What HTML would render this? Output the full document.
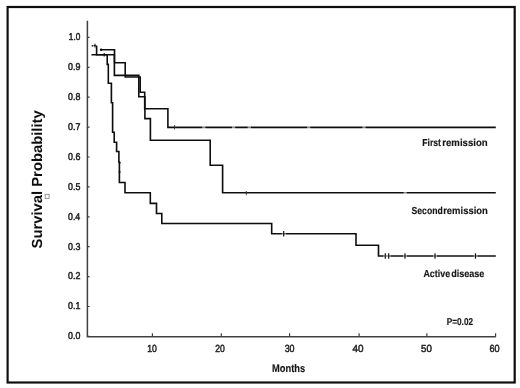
<!DOCTYPE html>
<html><head><meta charset="utf-8"><style>
html,body{margin:0;padding:0;background:#fff;width:520px;height:388px;overflow:hidden}
svg{display:block;text-rendering:geometricPrecision}
</style></head><body>
<svg width="520" height="388" viewBox="0 0 520 388">
<defs><filter id="bl" x="-5%" y="-5%" width="110%" height="110%"><feGaussianBlur stdDeviation="0.3"/></filter></defs>
<rect x="0" y="0" width="520" height="388" fill="#fff"/>
<g filter="url(#bl)">
<rect x="7.6" y="7.0" width="507.1" height="375.5" fill="none" stroke="#111" stroke-width="2.2"/>
<path d="M87.4 20.8 V336.7 H495.8" fill="none" stroke="#404040" stroke-width="1.5"/>
<path d="M87.4 37.4 h2.2 M87.4 67.3 h2.2 M87.4 97.2 h2.2 M87.4 127.1 h2.2 M87.4 157.0 h2.2 M87.4 186.9 h2.2 M87.4 216.8 h2.2 M87.4 246.7 h2.2 M87.4 276.6 h2.2 M87.4 306.5 h2.2 M87.4 336.4 h2.2 M152.4 336.7 v-3.4 M221.3 336.7 v-3.4 M289.6 336.7 v-3.4 M359.1 336.7 v-3.4 M426.9 336.7 v-3.4 M495.6 336.7 v-3.4" stroke="#404040" stroke-width="1.2" fill="none"/>
<g font-family="Liberation Sans" fill="#222" stroke="#222" stroke-width="0.5"><text x="68.87" y="40.2" font-size="9.9" textLength="11.45" lengthAdjust="spacingAndGlyphs">1.0</text><text x="68.05" y="70.1" font-size="9.9" textLength="12.37" lengthAdjust="spacingAndGlyphs">0.9</text><text x="68.05" y="100.0" font-size="9.9" textLength="12.33" lengthAdjust="spacingAndGlyphs">0.8</text><text x="68.05" y="129.9" font-size="9.9" textLength="12.4" lengthAdjust="spacingAndGlyphs">0.7</text><text x="68.05" y="159.8" font-size="9.9" textLength="12.34" lengthAdjust="spacingAndGlyphs">0.6</text><text x="68.05" y="189.7" font-size="9.9" textLength="12.32" lengthAdjust="spacingAndGlyphs">0.5</text><text x="68.06" y="219.6" font-size="9.9" textLength="12.2" lengthAdjust="spacingAndGlyphs">0.4</text><text x="68.05" y="249.5" font-size="9.9" textLength="12.34" lengthAdjust="spacingAndGlyphs">0.3</text><text x="68.05" y="279.4" font-size="9.9" textLength="12.4" lengthAdjust="spacingAndGlyphs">0.2</text><text x="68.05" y="309.3" font-size="9.9" textLength="12.38" lengthAdjust="spacingAndGlyphs">0.1</text><text x="68.05" y="339.2" font-size="9.9" textLength="12.29" lengthAdjust="spacingAndGlyphs">0.0</text></g>
<g font-family="Liberation Sans" fill="#222" stroke="#222" stroke-width="0.5"><text x="147.24" y="351.8" font-size="10.3" textLength="9.59" lengthAdjust="spacingAndGlyphs">10</text><text x="215.17" y="351.8" font-size="10.3" textLength="9.57" lengthAdjust="spacingAndGlyphs">20</text><text x="284.66" y="351.8" font-size="10.3" textLength="9.89" lengthAdjust="spacingAndGlyphs">30</text><text x="352.57" y="351.8" font-size="10.3" textLength="11.01" lengthAdjust="spacingAndGlyphs">40</text><text x="421.11" y="351.8" font-size="10.3" textLength="10.77" lengthAdjust="spacingAndGlyphs">50</text><text x="489.54" y="351.8" font-size="10.3" textLength="10.12" lengthAdjust="spacingAndGlyphs">60</text></g>
<path d="M100.5 49.7 H114.5 V62.8 H125.2 V77.0 H140.2 V92.3 H144.7 V108.8 H167.9 V127.4 H495.8" fill="none" stroke="#111" stroke-width="1.6" stroke-linejoin="miter"/>
<path d="M91.5 54.8 H114.4 V75.4 H138.8 V96.8 H144.9 V118.6 H150.4 V140.2 H210.2 V165.2 H222.6 V192.7 H495.8" fill="none" stroke="#111" stroke-width="1.6" stroke-linejoin="miter"/>
<path d="M96.6 46 V54.8 H107.2 V64.4 H108.3 V83.3 H111.4 V102.8 H112.6 V132.3 H114.2 V142.3 H116.6 V151.5 H118.9 V162 H119.4 V182.5 H125 V192.8 H150.3 V203.4 H156.5 V213.5 H161.8 V223.5 H271.7 V233.8 H356 V245.2 H378.5 V256 H495.8" fill="none" stroke="#111" stroke-width="1.6" stroke-linejoin="miter"/>
<rect x="202.20" y="125.80" width="3.2" height="3.2" fill="#fff" fill-opacity="0.5"/><rect x="232.00" y="125.80" width="3.2" height="3.2" fill="#fff" fill-opacity="0.5"/><rect x="247.70" y="125.80" width="3.2" height="3.2" fill="#fff" fill-opacity="0.5"/><rect x="307.10" y="125.80" width="3.2" height="3.2" fill="#fff" fill-opacity="0.5"/><rect x="362.40" y="125.80" width="3.2" height="3.2" fill="#fff" fill-opacity="0.5"/><rect x="403.60" y="191.10" width="3.2" height="3.2" fill="#fff" fill-opacity="0.5"/><rect x="281.70" y="232.20" width="4.0" height="3.2" fill="#fff" fill-opacity="0.45"/><rect x="383.30" y="254.40" width="4.0" height="3.2" fill="#fff" fill-opacity="0.45"/><rect x="386.70" y="254.40" width="4.0" height="3.2" fill="#fff" fill-opacity="0.45"/><rect x="403.00" y="254.40" width="4.0" height="3.2" fill="#fff" fill-opacity="0.45"/><rect x="433.00" y="254.40" width="4.0" height="3.2" fill="#fff" fill-opacity="0.45"/><rect x="473.50" y="254.40" width="4.0" height="3.2" fill="#fff" fill-opacity="0.45"/>
<path d="M283.7 231.1 v5.4 M385.3 253.3 v5.4 M388.7 253.3 v5.4 M405 253.3 v5.4 M435 253.3 v5.4 M475.5 253.3 v5.4" stroke="#111" stroke-width="1.2" fill="none"/>
<path d="M174.6 125 v4.5 M246.3 191 v4.2" stroke="#333" stroke-width="0.9" fill="none"/>
<circle cx="119.6" cy="162.8" r="1.1" fill="#111"/><circle cx="119.6" cy="172" r="1.1" fill="#111"/>
<circle cx="101.1" cy="49.7" r="1.25" fill="#111"/>
<path d="M104.2 53 v3.6" stroke="#111" stroke-width="1.1"/>
<circle cx="92.4" cy="45.8" r="0.9" fill="#222"/>
<path d="M93.6 45.6 h3 M95 43.8 v3.6" stroke="#222" stroke-width="1.1" fill="none"/>
<g font-family="Liberation Sans" font-weight="bold" fill="#151515" stroke="#151515" stroke-width="0.15"><text x="422.22" y="146.4" font-size="10.2" textLength="18.68" lengthAdjust="spacingAndGlyphs">First</text><text x="442.27" y="146.4" font-size="10.2" textLength="45.43" lengthAdjust="spacingAndGlyphs">remission</text><text x="411.55" y="214.3" font-size="10.2" textLength="31.12" lengthAdjust="spacingAndGlyphs">Second</text><text x="443.18" y="214.3" font-size="10.2" textLength="44.71" lengthAdjust="spacingAndGlyphs">remission</text><text x="423.38" y="277.2" font-size="10.2" textLength="26.73" lengthAdjust="spacingAndGlyphs">Active</text><text x="451.13" y="277.2" font-size="10.2" textLength="33.28" lengthAdjust="spacingAndGlyphs">disease</text><text x="446.75" y="325.2" font-size="10" textLength="26.28" lengthAdjust="spacingAndGlyphs">P=0.02</text><text x="272.08" y="371.7" font-size="11" textLength="33.1" lengthAdjust="spacingAndGlyphs">Months</text></g>
<text transform="translate(42.4 248.4) rotate(-90)" font-family="Liberation Sans" font-weight="bold" font-size="14.6" fill="#111" textLength="138.1" lengthAdjust="spacingAndGlyphs">Survival Probability</text>
<rect x="45.2" y="194.3" width="3.9" height="4.1" fill="none" stroke="#8a8a8a" stroke-width="0.9"/>
</g>
</svg>
</body></html>
